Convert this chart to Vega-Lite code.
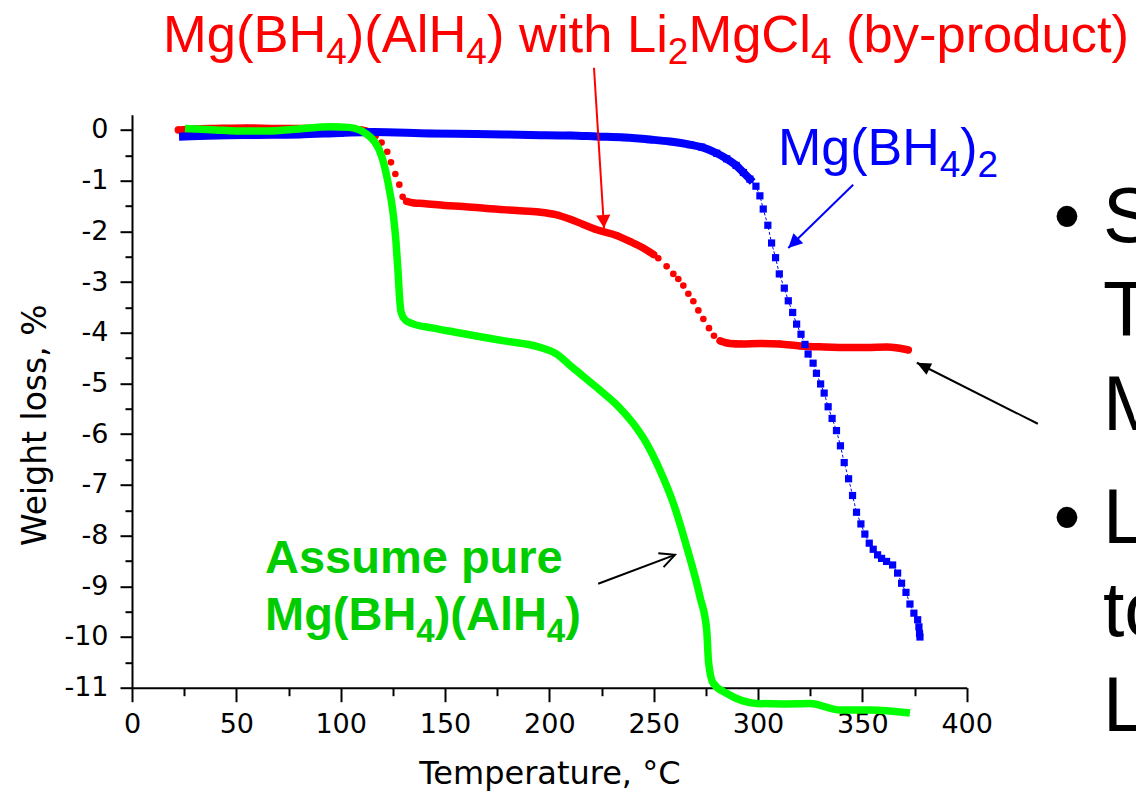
{
  "$schema": "https://vega.github.io/schema/vega-lite/v6.json",
  "width": 834.7,
  "height": 573,
  "autosize": {"type": "none"},
  "padding": {"left": 132, "top": 114.7, "right": 169.3, "bottom": 108.3},
  "background": "white",
  "config": {
    "view": {"stroke": null},
    "axis": {"labelFont": "DejaVu Sans", "titleFont": "DejaVu Sans", "labelColor": "black", "titleColor": "black", "domainColor": "black", "tickColor": "black", "grid": false, "labelFontWeight": "normal", "titleFontWeight": "normal", "labelFlush": false, "labelOverlap": false}
  },
  "resolve": {"axis": {"x": "independent", "y": "independent"}},
  "datasets": {
    "red": [
      {"T": 22.2, "w": 0.0, "seg": "a"}, {"T": 30, "w": 0.02, "seg": "a"}, {"T": 40, "w": 0.03, "seg": "a"}, {"T": 55, "w": 0.04, "seg": "a"}, {"T": 70, "w": 0.03, "seg": "a"}, {"T": 85, "w": 0.03, "seg": "a"}, {"T": 100, "w": 0.02, "seg": "a"}, {"T": 110, "w": 0.0, "seg": "a"}, {"T": 114, "w": -0.05, "seg": "a"}, {"T": 116.5, "w": -0.12, "seg": "a"},
      {"T": 119.6, "w": -0.25}, {"T": 122.3, "w": -0.43}, {"T": 124.1, "w": -0.64}, {"T": 126.2, "w": -0.87}, {"T": 128.1, "w": -1.08}, {"T": 129.7, "w": -1.32},
      {"T": 131.6, "w": -1.41, "seg": "b"}, {"T": 135, "w": -1.44, "seg": "b"}, {"T": 139.6, "w": -1.45, "seg": "b"}, {"T": 150, "w": -1.49, "seg": "b"}, {"T": 158.7, "w": -1.51, "seg": "b"}, {"T": 170, "w": -1.55, "seg": "b"}, {"T": 184.3, "w": -1.59, "seg": "b"}, {"T": 195, "w": -1.62, "seg": "b"}, {"T": 203, "w": -1.67, "seg": "b"}, {"T": 210, "w": -1.76, "seg": "b"}, {"T": 216, "w": -1.86, "seg": "b"}, {"T": 222.7, "w": -1.97, "seg": "b"}, {"T": 232.2, "w": -2.08, "seg": "b"}, {"T": 238.6, "w": -2.2, "seg": "b"}, {"T": 245, "w": -2.33, "seg": "b"}, {"T": 250, "w": -2.46, "seg": "b"},
      {"T": 252.2, "w": -2.53}, {"T": 256.2, "w": -2.69}, {"T": 259.4, "w": -2.84}, {"T": 261.8, "w": -2.94}, {"T": 264.2, "w": -3.07}, {"T": 266.6, "w": -3.23}, {"T": 269.0, "w": -3.38}, {"T": 271.4, "w": -3.56}, {"T": 273.8, "w": -3.73}, {"T": 276.5, "w": -3.91}, {"T": 278.9, "w": -4.06},
      {"T": 281.8, "w": -4.16, "seg": "c"}, {"T": 286.5, "w": -4.21, "seg": "c"}, {"T": 292, "w": -4.22, "seg": "c"}, {"T": 301, "w": -4.21, "seg": "c"}, {"T": 310.5, "w": -4.22, "seg": "c"}, {"T": 320, "w": -4.26, "seg": "c"}, {"T": 332, "w": -4.28, "seg": "c"}, {"T": 344, "w": -4.29, "seg": "c"}, {"T": 352, "w": -4.29, "seg": "c"}, {"T": 361.6, "w": -4.28, "seg": "c"}, {"T": 367, "w": -4.3, "seg": "c"}, {"T": 372, "w": -4.34, "seg": "c"}
    ],
    "blue": [
      {"T": 24.5, "w": -0.13, "seg": "a"}, {"T": 40, "w": -0.11, "seg": "a"}, {"T": 60, "w": -0.1, "seg": "a"}, {"T": 80, "w": -0.09, "seg": "a"}, {"T": 100, "w": -0.06, "seg": "a"}, {"T": 115.7, "w": -0.04, "seg": "a"}, {"T": 142.8, "w": -0.07, "seg": "a"}, {"T": 165, "w": -0.08, "seg": "a"}, {"T": 190.7, "w": -0.1, "seg": "a"}, {"T": 210, "w": -0.11, "seg": "a"}, {"T": 222.7, "w": -0.13, "seg": "a"}, {"T": 236, "w": -0.15, "seg": "a"}, {"T": 248.2, "w": -0.19, "seg": "a"}, {"T": 258, "w": -0.23, "seg": "a"}, {"T": 267.4, "w": -0.29, "seg": "a"}, {"T": 273, "w": -0.34, "seg": "a"}, {"T": 280.2, "w": -0.46, "seg": "a"}, {"T": 285, "w": -0.57, "seg": "a"}, {"T": 289.5, "w": -0.7, "seg": "a"}, {"T": 293, "w": -0.84, "seg": "a"}, {"T": 296.1, "w": -0.97, "seg": "a"},
      {"T": 299, "w": -1.11}, {"T": 300.9, "w": -1.3}, {"T": 302.5, "w": -1.56}, {"T": 304.7, "w": -1.88}, {"T": 306.5, "w": -2.23}, {"T": 308.4, "w": -2.52}, {"T": 310.2, "w": -2.84}, {"T": 312.6, "w": -3.12}, {"T": 314.5, "w": -3.37}, {"T": 316.6, "w": -3.6}, {"T": 318.5, "w": -3.83}, {"T": 320.6, "w": -4.03}, {"T": 322.5, "w": -4.23}, {"T": 324.0, "w": -4.42}, {"T": 326.4, "w": -4.6}, {"T": 328.0, "w": -4.8}, {"T": 330.0, "w": -5.01}, {"T": 331.7, "w": -5.19}, {"T": 333.6, "w": -5.46}, {"T": 335.5, "w": -5.69}, {"T": 337.6, "w": -5.93}, {"T": 339.5, "w": -6.23}, {"T": 341.3, "w": -6.56}, {"T": 343.4, "w": -6.88}, {"T": 345.3, "w": -7.21}, {"T": 347.2, "w": -7.54}, {"T": 349.3, "w": -7.77}, {"T": 351.2, "w": -7.97}, {"T": 353.3, "w": -8.15}, {"T": 355.2, "w": -8.27}, {"T": 357.3, "w": -8.38}, {"T": 359.2, "w": -8.45}, {"T": 361.6, "w": -8.51}, {"T": 364.5, "w": -8.58}, {"T": 366.9, "w": -8.74}, {"T": 368.8, "w": -8.94}, {"T": 370.9, "w": -9.12}, {"T": 372.8, "w": -9.35}, {"T": 374.7, "w": -9.53}, {"T": 376.5, "w": -9.66}, {"T": 377.1, "w": -9.8}, {"T": 377.4, "w": -9.93}, {"T": 377.6, "w": -10.0}
    ],
    "green": [
      {"T": 25.4, "w": 0.03}, {"T": 40, "w": 0.0}, {"T": 50, "w": -0.02}, {"T": 65, "w": -0.02}, {"T": 80, "w": 0.02}, {"T": 95, "w": 0.06}, {"T": 104, "w": 0.05}, {"T": 109, "w": 0.0}, {"T": 112, "w": -0.07}, {"T": 116, "w": -0.22}, {"T": 119.5, "w": -0.5}, {"T": 122.5, "w": -1.0}, {"T": 125, "w": -1.6}, {"T": 126.5, "w": -2.2}, {"T": 127.5, "w": -2.8}, {"T": 128.2, "w": -3.3}, {"T": 129, "w": -3.6}, {"T": 131, "w": -3.75}, {"T": 135, "w": -3.83}, {"T": 143, "w": -3.9}, {"T": 155, "w": -3.99}, {"T": 167, "w": -4.08}, {"T": 180, "w": -4.17}, {"T": 194, "w": -4.27}, {"T": 203.5, "w": -4.42}, {"T": 211.5, "w": -4.7}, {"T": 218, "w": -4.92}, {"T": 224.2, "w": -5.13}, {"T": 233, "w": -5.45}, {"T": 240.2, "w": -5.79}, {"T": 246.6, "w": -6.18}, {"T": 253, "w": -6.71}, {"T": 259.4, "w": -7.36}, {"T": 265.8, "w": -8.22}, {"T": 272.2, "w": -9.21}, {"T": 275.4, "w": -9.86}, {"T": 276.3, "w": -10.5}, {"T": 278.5, "w": -10.91}, {"T": 284.9, "w": -11.11}, {"T": 292, "w": -11.25}, {"T": 299.3, "w": -11.31}, {"T": 312, "w": -11.32}, {"T": 324.9, "w": -11.31}, {"T": 339.2, "w": -11.44}, {"T": 353.6, "w": -11.44}, {"T": 372.8, "w": -11.5}
    ]
  },
  "layer": [
    {
      "data": {"name": "red"},
      "transform": [{"filter": "datum.seg != null"}],
      "mark": {"type": "line", "color": "#FF0000", "strokeWidth": 7.5, "strokeCap": "round", "strokeJoin": "round", "interpolate": "monotone"},
      "encoding": {
        "x": {"field": "T", "type": "quantitative", "scale": {"domain": [0, 400], "nice": false, "zero": false}, "axis": null},
        "y": {"field": "w", "type": "quantitative", "scale": {"domain": [-11, 0.3], "nice": false, "zero": false}, "axis": null},
        "detail": {"field": "seg"}
      }
    },
    {
      "data": {"name": "red"},
      "mark": {"type": "circle", "color": "#FF0000", "size": 44, "opacity": 1},
      "encoding": {
        "x": {"field": "T", "type": "quantitative", "scale": {"domain": [0, 400], "nice": false, "zero": false},
          "axis": {"orient": "bottom", "values": [25, 75, 125, 175, 225, 275, 325, 375], "tickSize": 8, "tickWidth": 2, "labels": false, "domain": false, "title": null}},
        "y": {"field": "w", "type": "quantitative", "scale": {"domain": [-11, 0.3], "nice": false, "zero": false},
          "axis": {"orient": "left", "values": [-10.5, -9.5, -8.5, -7.5, -6.5, -5.5, -4.5, -3.5, -2.5, -1.5, -0.5], "tickSize": 7, "tickWidth": 2, "labels": false, "domain": false, "title": null}}
      }
    },
    {
      "data": {"name": "blue"},
      "mark": {"type": "line", "color": "#0000FF", "strokeWidth": 1, "strokeDash": [3, 2]},
      "encoding": {
        "x": {"field": "T", "type": "quantitative", "scale": {"domain": [0, 400], "nice": false, "zero": false}, "axis": null},
        "y": {"field": "w", "type": "quantitative", "scale": {"domain": [-11, 0.3], "nice": false, "zero": false}, "axis": null}
      }
    },
    {
      "data": {"name": "blue"},
      "transform": [{"filter": "datum.seg != null"}],
      "mark": {"type": "line", "color": "#0000FF", "strokeWidth": 8, "strokeCap": "square", "interpolate": "monotone"},
      "encoding": {
        "x": {"field": "T", "type": "quantitative", "scale": {"domain": [0, 400], "nice": false, "zero": false}, "axis": null},
        "y": {"field": "w", "type": "quantitative", "scale": {"domain": [-11, 0.3], "nice": false, "zero": false}, "axis": null}
      }
    },
    {
      "data": {"name": "blue"},
      "mark": {"type": "square", "color": "#0000FF", "size": 52, "opacity": 1},
      "encoding": {
        "x": {"field": "T", "type": "quantitative", "scale": {"domain": [0, 400], "nice": false, "zero": false}, "axis": null},
        "y": {"field": "w", "type": "quantitative", "scale": {"domain": [-11, 0.3], "nice": false, "zero": false}, "axis": null}
      }
    },
    {
      "data": {"name": "green"},
      "mark": {"type": "line", "color": "#00FF00", "strokeWidth": 7.5, "strokeCap": "butt", "strokeJoin": "round", "interpolate": "monotone"},
      "encoding": {
        "x": {"field": "T", "type": "quantitative", "scale": {"domain": [0, 400], "nice": false, "zero": false},
          "axis": {"orient": "bottom", "values": [0, 50, 100, 150, 200, 250, 300, 350, 400], "tickSize": 14, "tickWidth": 2, "domainWidth": 2, "labelFontSize": 27, "labelPadding": 10, "labelExpr": "toString(datum.value)",
            "title": "Temperature, °C", "titleFontSize": 32, "titleY": 96, "titleBaseline": "alphabetic"}},
        "y": {"field": "w", "type": "quantitative", "scale": {"domain": [-11, 0.3], "nice": false, "zero": false},
          "axis": {"orient": "left", "values": [-11, -10, -9, -8, -7, -6, -5, -4, -3, -2, -1, 0], "tickSize": 12, "tickWidth": 2, "domainWidth": 2, "labelFontSize": 27, "labelPadding": 12, "labelExpr": "toString(datum.value)",
            "title": "Weight loss, %", "titleFontSize": 33, "titleX": -87, "titleY": 310, "titleBaseline": "alphabetic", "titleAngle": 270}}
      }
    },
    {
      "data": {"values": [{"T": 221.4, "w": 1.227, "T2": 226.2, "w2": -1.935}]},
      "mark": {"type": "rule", "color": "#FF0000", "strokeWidth": 2},
      "encoding": {
        "x": {"field": "T", "type": "quantitative", "scale": {"domain": [0, 400], "nice": false, "zero": false}, "axis": null},
        "y": {"field": "w", "type": "quantitative", "scale": {"domain": [-11, 0.3], "nice": false, "zero": false}, "axis": null},
        "x2": {"field": "T2"}, "y2": {"field": "w2"}
      }
    },
    {
      "data": {"values": [{"T": 226.2, "w": -1.935}]},
      "mark": {"type": "point", "shape": "M0,0L-1,-0.55L-1,0.55Z", "filled": true, "color": "#FF0000", "opacity": 1, "size": 676, "angle": 86.4},
      "encoding": {
        "x": {"field": "T", "type": "quantitative", "scale": {"domain": [0, 400], "nice": false, "zero": false}, "axis": null},
        "y": {"field": "w", "type": "quantitative", "scale": {"domain": [-11, 0.3], "nice": false, "zero": false}, "axis": null}
      }
    },
    {
      "data": {"values": [{"T": 345.6, "w": -1.081, "T2": 314.5, "w2": -2.33}]},
      "mark": {"type": "rule", "color": "#0000FF", "strokeWidth": 2},
      "encoding": {
        "x": {"field": "T", "type": "quantitative", "scale": {"domain": [0, 400], "nice": false, "zero": false}, "axis": null},
        "y": {"field": "w", "type": "quantitative", "scale": {"domain": [-11, 0.3], "nice": false, "zero": false}, "axis": null},
        "x2": {"field": "T2"}, "y2": {"field": "w2"}
      }
    },
    {
      "data": {"values": [{"T": 314.5, "w": -2.33}]},
      "mark": {"type": "point", "shape": "M0,0L-1,-0.5L-1,0.5Z", "filled": true, "color": "#0000FF", "opacity": 1, "size": 784, "angle": 135.8},
      "encoding": {
        "x": {"field": "T", "type": "quantitative", "scale": {"domain": [0, 400], "nice": false, "zero": false}, "axis": null},
        "y": {"field": "w", "type": "quantitative", "scale": {"domain": [-11, 0.3], "nice": false, "zero": false}, "axis": null}
      }
    },
    {
      "data": {"values": [{"T": 434.1, "w": -5.795, "T2": 376.1, "w2": -4.592}]},
      "mark": {"type": "rule", "color": "#000000", "strokeWidth": 2},
      "encoding": {
        "x": {"field": "T", "type": "quantitative", "scale": {"domain": [0, 400], "nice": false, "zero": false}, "axis": null},
        "y": {"field": "w", "type": "quantitative", "scale": {"domain": [-11, 0.3], "nice": false, "zero": false}, "axis": null},
        "x2": {"field": "T2"}, "y2": {"field": "w2"}
      }
    },
    {
      "data": {"values": [{"T": 376.1, "w": -4.592}]},
      "mark": {"type": "point", "shape": "M0,0L-1,-0.45L-1,0.45Z", "filled": true, "color": "#000000", "opacity": 1, "size": 784, "angle": 206.8},
      "encoding": {
        "x": {"field": "T", "type": "quantitative", "scale": {"domain": [0, 400], "nice": false, "zero": false}, "axis": null},
        "y": {"field": "w", "type": "quantitative", "scale": {"domain": [-11, 0.3], "nice": false, "zero": false}, "axis": null}
      }
    },
    {
      "data": {"values": [{"T": 223.4, "w": -8.95, "T2": 260.2, "w2": -8.38}]},
      "mark": {"type": "rule", "color": "#000000", "strokeWidth": 2},
      "encoding": {
        "x": {"field": "T", "type": "quantitative", "scale": {"domain": [0, 400], "nice": false, "zero": false}, "axis": null},
        "y": {"field": "w", "type": "quantitative", "scale": {"domain": [-11, 0.3], "nice": false, "zero": false}, "axis": null},
        "x2": {"field": "T2"}, "y2": {"field": "w2"}
      }
    },
    {
      "data": {"values": [{"T": 260.2, "w": -8.38}]},
      "mark": {"type": "point", "shape": "M-1,-0.5L0,0L-1,0.5", "filled": false, "color": "#000000", "strokeWidth": 2, "opacity": 1, "size": 900, "angle": -20.7},
      "encoding": {
        "x": {"field": "T", "type": "quantitative", "scale": {"domain": [0, 400], "nice": false, "zero": false}, "axis": null},
        "y": {"field": "w", "type": "quantitative", "scale": {"domain": [-11, 0.3], "nice": false, "zero": false}, "axis": null}
      }
    },
    {
      "data": {"values": [{"T": 14.85, "w": 1.542, "label": "Mg(BH"}, {"T": 102.97, "w": 1.542, "label": ")(AlH"}, {"T": 170.10, "w": 1.542, "label": ") with Li"}, {"T": 266.65, "w": 1.542, "label": "MgCl"}, {"T": 342.17, "w": 1.542, "label": "(by-product)"}]},
      "mark": {"type": "text", "font": "Liberation Sans", "fontSize": 52.5, "color": "#FF0000", "align": "left", "baseline": "alphabetic"},
      "encoding": {
        "x": {"field": "T", "type": "quantitative", "scale": {"domain": [0, 400], "nice": false, "zero": false}, "axis": null},
        "y": {"field": "w", "type": "quantitative", "scale": {"domain": [-11, 0.3], "nice": false, "zero": false}, "axis": null},
        "text": {"field": "label"}
      }
    },
    {
      "data": {"values": [{"T": 93.10, "w": 1.296, "label": "4"}, {"T": 160.23, "w": 1.296, "label": "4"}, {"T": 256.78, "w": 1.296, "label": "2"}, {"T": 325.35, "w": 1.296, "label": "4"}]},
      "mark": {"type": "text", "font": "Liberation Sans", "fontSize": 37, "color": "#FF0000", "align": "left", "baseline": "alphabetic"},
      "encoding": {
        "x": {"field": "T", "type": "quantitative", "scale": {"domain": [0, 400], "nice": false, "zero": false}, "axis": null},
        "y": {"field": "w", "type": "quantitative", "scale": {"domain": [-11, 0.3], "nice": false, "zero": false}, "axis": null},
        "text": {"field": "label"}
      }
    },
    {
      "data": {"values": [{"T": 309.54, "w": -0.686, "label": "Mg(BH"}, {"T": 396.93, "w": -0.686, "label": ")"}]},
      "mark": {"type": "text", "font": "Liberation Sans", "fontSize": 52, "color": "#0000FF", "align": "left", "baseline": "alphabetic"},
      "encoding": {
        "x": {"field": "T", "type": "quantitative", "scale": {"domain": [0, 400], "nice": false, "zero": false}, "axis": null},
        "y": {"field": "w", "type": "quantitative", "scale": {"domain": [-11, 0.3], "nice": false, "zero": false}, "axis": null},
        "text": {"field": "label"}
      }
    },
    {
      "data": {"values": [{"T": 387.06, "w": -0.925, "label": "4"}, {"T": 405.22, "w": -0.925, "label": "2"}]},
      "mark": {"type": "text", "font": "Liberation Sans", "fontSize": 37, "color": "#0000FF", "align": "left", "baseline": "alphabetic"},
      "encoding": {
        "x": {"field": "T", "type": "quantitative", "scale": {"domain": [0, 400], "nice": false, "zero": false}, "axis": null},
        "y": {"field": "w", "type": "quantitative", "scale": {"domain": [-11, 0.3], "nice": false, "zero": false}, "axis": null},
        "text": {"field": "label"}
      }
    },
    {
      "data": {"values": [{"T": 63.73, "w": -8.74, "label": "Assume pure"}, {"T": 63.73, "w": -9.858, "label": "Mg(BH"}, {"T": 145.04, "w": -9.858, "label": ")(AlH"}, {"T": 207.57, "w": -9.858, "label": ")"}]},
      "mark": {"type": "text", "font": "Liberation Sans", "fontSize": 47, "fontWeight": "bold", "color": "#00CC00", "align": "left", "baseline": "alphabetic"},
      "encoding": {
        "x": {"field": "T", "type": "quantitative", "scale": {"domain": [0, 400], "nice": false, "zero": false}, "axis": null},
        "y": {"field": "w", "type": "quantitative", "scale": {"domain": [-11, 0.3], "nice": false, "zero": false}, "axis": null},
        "text": {"field": "label"}
      }
    },
    {
      "data": {"values": [{"T": 136.27, "w": -10.09, "label": "4"}, {"T": 198.80, "w": -10.09, "label": "4"}]},
      "mark": {"type": "text", "font": "Liberation Sans", "fontSize": 33, "fontWeight": "bold", "color": "#00CC00", "align": "left", "baseline": "alphabetic"},
      "encoding": {
        "x": {"field": "T", "type": "quantitative", "scale": {"domain": [0, 400], "nice": false, "zero": false}, "axis": null},
        "y": {"field": "w", "type": "quantitative", "scale": {"domain": [-11, 0.3], "nice": false, "zero": false}, "axis": null},
        "text": {"field": "label"}
      }
    },
    {
      "data": {"values": [{"T": 465.3, "w": -2.21, "label": "S"}, {"T": 465.3, "w": -4.06, "label": "T"}, {"T": 465.3, "w": -5.91, "label": "M"}, {"T": 465.3, "w": -8.14, "label": "L"}, {"T": 465.3, "w": -9.99, "label": "to"}, {"T": 465.3, "w": -11.85, "label": "L"}]},
      "mark": {"type": "text", "font": "Liberation Sans", "fontSize": 77, "color": "#000000", "align": "left", "baseline": "alphabetic"},
      "encoding": {
        "x": {"field": "T", "type": "quantitative", "scale": {"domain": [0, 400], "nice": false, "zero": false}, "axis": null},
        "y": {"field": "w", "type": "quantitative", "scale": {"domain": [-11, 0.3], "nice": false, "zero": false}, "axis": null},
        "text": {"field": "label"}
      }
    },
    {
      "data": {"values": [{"T": 448, "w": -2.21, "label": "•"}, {"T": 448, "w": -8.14, "label": "•"}]},
      "mark": {"type": "text", "font": "Liberation Sans", "fontSize": 77, "color": "#000000", "align": "center", "baseline": "alphabetic"},
      "encoding": {
        "x": {"field": "T", "type": "quantitative", "scale": {"domain": [0, 400], "nice": false, "zero": false}, "axis": null},
        "y": {"field": "w", "type": "quantitative", "scale": {"domain": [-11, 0.3], "nice": false, "zero": false}, "axis": null},
        "text": {"field": "label"}
      }
    }
  ]
}
